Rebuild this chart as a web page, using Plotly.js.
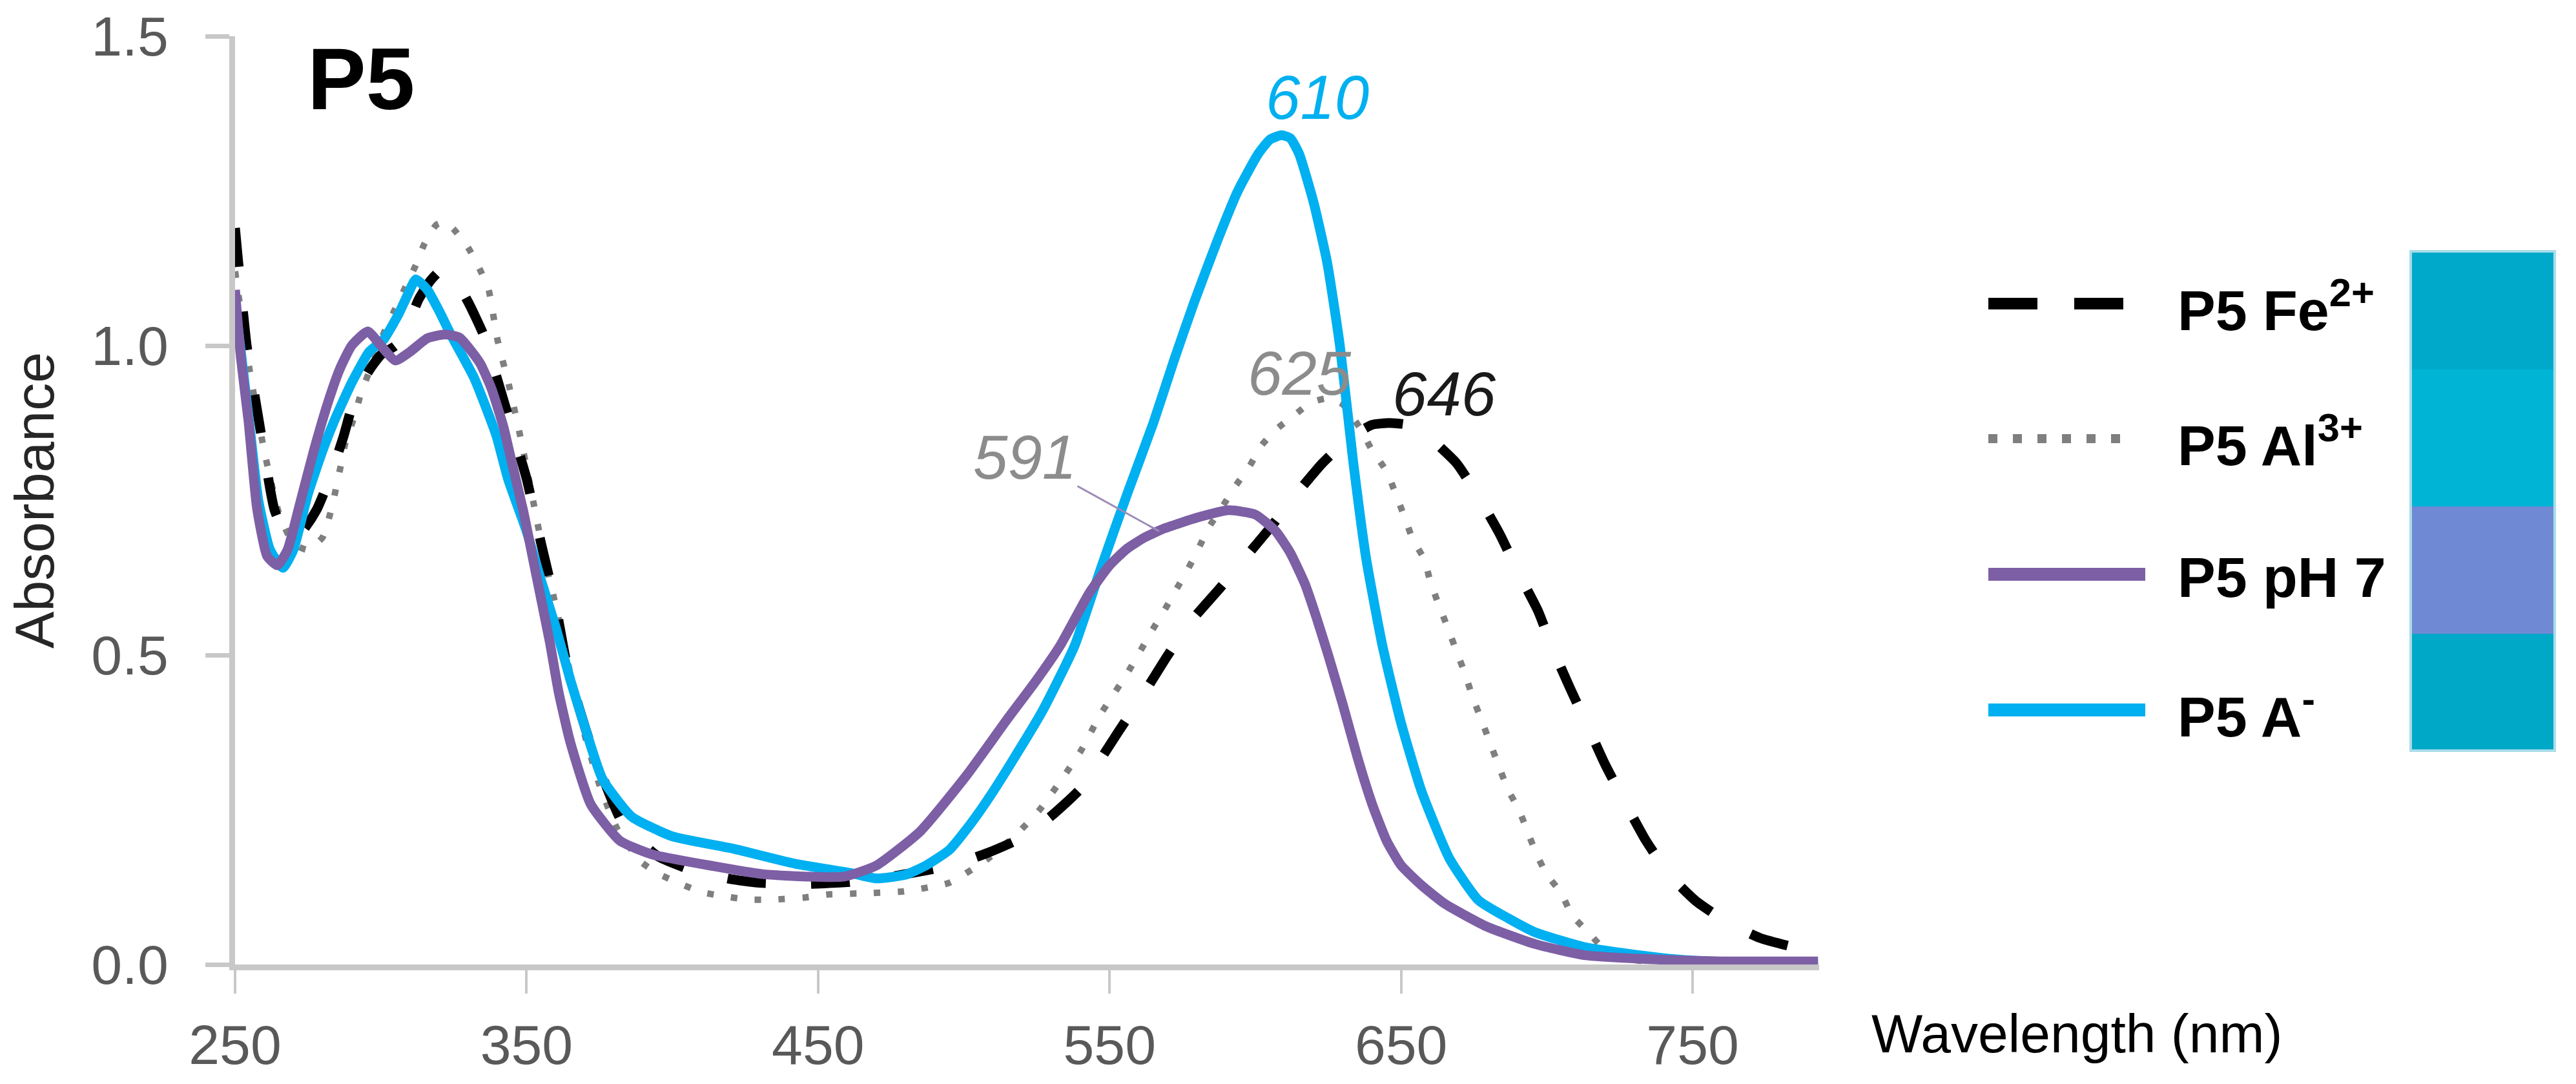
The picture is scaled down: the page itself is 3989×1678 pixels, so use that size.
<!DOCTYPE html>
<html><head><meta charset="utf-8">
<script src="https://cdn.plot.ly/plotly-3.0.1.min.js"></script>
<style>html,body{margin:0;padding:0;background:#fff}#chart{width:3989px;height:1678px}</style>
</head><body><div id="chart"></div><script>
// ---------- data ----------
const seriesNames = ['P5 Fe<sup>2+</sup>', 'P5 Al<sup>3+</sup>', 'P5 pH 7', 'P5 A<sup>-</sup>'];

const wlFe = [250,252,254,258.5,263.5,268,273,278,282,287,291,296,300,305,309,313,317,321,325,330,335,340,345,350,355,360,364,372,383,395,407.5,420,430,445,460,475,495.5,508,520,530,540,553,562,570,578,588,597,606,614,623,632,640,646,652,660,669,676,684,690,697,702,708,714,720,727,734,742,751,762,773,783,793];
const absFe = [1.19,1.09,1.0,0.869,0.735,0.69,0.70,0.735,0.78,0.85,0.915,0.96,0.985,1.0,1.03,1.075,1.105,1.123,1.11,1.07,1.02,0.945,0.865,0.785,0.68,0.58,0.48,0.355,0.228,0.175,0.151,0.138,0.132,0.13,0.133,0.142,0.16,0.18,0.205,0.24,0.284,0.376,0.44,0.5,0.555,0.609,0.66,0.711,0.76,0.81,0.85,0.872,0.875,0.872,0.85,0.81,0.76,0.694,0.635,0.571,0.51,0.446,0.385,0.323,0.26,0.2,0.145,0.103,0.068,0.043,0.03,0.02];

const wlAl = [250,255,260,265,270,275,280,283,286,288,291,293,297,301,305,309,312,315,319,322,325,330,334,337,340,344,348,352,356,360,365,370,375,381,389,395,403,410,418,426,435,445,453,465,479,495,508,518,526,535,540,547,556,565,569,573,577,581,584,589,593,598,602,607,614,619,625,630,636,640,645,648,651,654,658,660,663,666,669,672,674.5,677.5,680.5,683.5,686.5,690.5,693.5,696.5,700,705,708.5,714,719,725,735,750,793];
const absAl = [1.12,0.96,0.83,0.73,0.68,0.67,0.69,0.735,0.8,0.846,0.886,0.92,0.97,1.02,1.06,1.10,1.13,1.165,1.195,1.2,1.188,1.158,1.123,1.09,1.01,0.935,0.85,0.755,0.66,0.58,0.47,0.37,0.29,0.22,0.167,0.147,0.13,0.117,0.11,0.105,0.105,0.108,0.113,0.115,0.118,0.132,0.17,0.21,0.25,0.309,0.344,0.405,0.47,0.543,0.574,0.607,0.64,0.677,0.706,0.742,0.772,0.805,0.838,0.864,0.89,0.908,0.915,0.905,0.866,0.831,0.797,0.762,0.725,0.687,0.654,0.619,0.58,0.544,0.506,0.469,0.432,0.396,0.358,0.321,0.284,0.249,0.213,0.178,0.145,0.115,0.08,0.053,0.028,0.012,0.004,0.001,0];

const wlPH7 = [250,252,254.6,257.5,261,264.5,268,272,277,282,286,290,295.5,300,305,310,316,322,327,334,338,342,345,349,352,355,358,361,365,372,382,393,414,431,446,459,470,485,501,515,525,533,543,550,556,562,569,580,591,600,607,612,617,621,625,630,635,640,645,650,657,665,679,696,713,738,760,793];
const absPH7 = [1.09,0.98,0.878,0.738,0.66,0.645,0.67,0.74,0.83,0.91,0.963,1.0,1.023,1.0,0.976,0.99,1.012,1.018,1.013,0.972,0.93,0.87,0.81,0.73,0.66,0.59,0.52,0.44,0.359,0.259,0.2,0.178,0.159,0.146,0.142,0.142,0.16,0.215,0.306,0.397,0.46,0.515,0.6,0.645,0.672,0.69,0.705,0.722,0.734,0.727,0.70,0.665,0.615,0.56,0.5,0.42,0.335,0.26,0.2,0.16,0.128,0.098,0.062,0.033,0.015,0.008,0.005,0.005];

const wlA = [250,253,255,258,262,266.4,270,275,280,284,290,296,301,306,309,312,316,320,324,332,339.6,343.6,350,355,360,365,369,376,386,400,421,442,462,470,480,487,495,501,508,516,527,538,547,556,565,572,579,587,594,601,605,609,612,615,620,624.6,629,633.5,638,643.6,650,657,666.6,676.5,687,696,713,730,745,760,775,793];
const absA = [1.07,0.95,0.87,0.75,0.67,0.641,0.67,0.76,0.83,0.878,0.94,0.99,1.01,1.05,1.08,1.107,1.09,1.056,1.018,0.948,0.855,0.785,0.70,0.62,0.545,0.46,0.399,0.3,0.239,0.207,0.187,0.163,0.147,0.139,0.145,0.16,0.185,0.219,0.265,0.324,0.41,0.515,0.64,0.76,0.875,0.975,1.07,1.17,1.25,1.31,1.333,1.34,1.335,1.31,1.231,1.135,1.0,0.815,0.656,0.515,0.39,0.28,0.171,0.104,0.074,0.052,0.028,0.016,0.008,0.004,0.002,0.001];

const xTicks = [250,350,450,550,650,750];
const yTicks = [0,0.5,1.0,1.5];
const peakLabels = ['610','625','646','591'];
const swatchColors = ['#00A9CA','#00B4D6','#7089D4','#00A8C8'];

// ---------- styling / layout ----------
const W=3989, H=1678, L=364, R=2817, T=56, B=1493;
const px = x => (x-L)/(R-L);
const py = y => (B-y)/(B-T);
const FONT = '"Liberation Sans", Arial, sans-serif';
const cFe='#000000', cAl='#7F7F7F', cPH='#7D5FA5', cA='#00B0F0';

const traces = [
  {x: wlAl, y: absAl, name: seriesNames[1], mode:'lines', line:{color:cAl, width:10, dash:'10px,27px', shape:'spline', smoothing:0.5}},
  {x: wlFe, y: absFe, name: seriesNames[0], mode:'lines', line:{color:cFe, width:15, dash:'60px,70px', shape:'spline', smoothing:0.5}},
  {x: wlA, y: absA, name: seriesNames[3], mode:'lines', line:{color:cA, width:15, shape:'spline', smoothing:0.5}},
  {x: wlPH7, y: absPH7, name: seriesNames[2], mode:'lines', line:{color:cPH, width:15, shape:'spline', smoothing:0.5}}
].map(t => Object.assign(t, {showlegend:false, hoverinfo:'skip'}));

const legY = [470, 679, 889, 1099];
const legX0 = 3079;
const shapes = [
  {type:'line', xref:'paper', yref:'paper', x0:px(legX0), x1:px(3288), y0:py(legY[0]), y1:py(legY[0]), line:{color:cFe, width:18, dash:'76px,57px'}},
  {type:'line', xref:'paper', yref:'paper', x0:px(legX0), x1:px(3288), y0:py(legY[1]), y1:py(legY[1]), line:{color:cAl, width:14, dash:'14px,24px'}},
  {type:'line', xref:'paper', yref:'paper', x0:px(legX0), x1:px(3322), y0:py(legY[2]), y1:py(legY[2]), line:{color:cPH, width:20}},
  {type:'line', xref:'paper', yref:'paper', x0:px(legX0), x1:px(3322), y0:py(legY[3]), y1:py(legY[3]), line:{color:cA, width:20}}
];
const swY = [391, 572, 784, 981, 1160];
swatchColors.forEach((c,i) => shapes.push({type:'rect', xref:'paper', yref:'paper', x0:px(3735), x1:px(3954), y0:py(swY[i+1]), y1:py(swY[i]), fillcolor:c, line:{width:0}, layer:'below'}));
shapes.push({type:'rect', xref:'paper', yref:'paper', x0:px(3733), x1:px(3956), y0:py(1162), y1:py(389), fillcolor:'rgba(0,0,0,0)', line:{color:'#A8DDE9', width:4}});

const annotations = [];
const legOrder = [0,1,2,3];
legOrder.forEach((k,i) => annotations.push({xref:'paper', yref:'paper', x:px(3370), y:py(legY[i]+4), xanchor:'left', yanchor:'middle', showarrow:false, text:seriesNames[k], font:{family:FONT, size:88, weight:'bold', color:'#000'}}));
annotations.push({xref:'paper', yref:'paper', x:px(559), y:py(122), xanchor:'center', yanchor:'middle', showarrow:false, text:'P5', font:{family:FONT, size:136, weight:'bold', color:'#000'}});
annotations.push({xref:'paper', yref:'paper', x:px(2040), y:py(150), xanchor:'center', yanchor:'middle', showarrow:false, text:peakLabels[0], font:{family:FONT, size:96, style:'italic', color:cA}});
annotations.push({xref:'paper', yref:'paper', x:px(2012), y:py(577), xanchor:'center', yanchor:'middle', showarrow:false, text:peakLabels[1], font:{family:FONT, size:96, style:'italic', color:'#8C8C8C'}});
annotations.push({xref:'paper', yref:'paper', x:px(2236), y:py(609), xanchor:'center', yanchor:'middle', showarrow:false, text:peakLabels[2], font:{family:FONT, size:96, style:'italic', color:'#1A1A1A'}});
annotations.push({xref:'x', yref:'y', x:567, y:0.70, ax:-208, ay:-115, axref:'pixel', ayref:'pixel', showarrow:true, arrowhead:0, arrowwidth:3, arrowcolor:'#9D8BB8', text:peakLabels[3], font:{family:FONT, size:96, style:'italic', color:'#8C8C8C'}});
annotations.push({xref:'paper', yref:'paper', x:px(3216), y:py(1600), xanchor:'center', yanchor:'middle', showarrow:false, text:'Wavelength (nm)', font:{family:FONT, size:84, color:'#000'}});

const layout = {
  width:W, height:H,
  margin:{l:L, r:W-R, t:T, b:H-B, pad:0},
  paper_bgcolor:'#fff', plot_bgcolor:'#fff',
  font:{family:FONT, color:'#595959'},
  showlegend:false,
  xaxis:{range:[250,793.4], tickvals:xTicks, ticktext:xTicks.map(String), showgrid:false, zeroline:false,
         showline:true, linecolor:'#C8C8C8', linewidth:9, ticks:'outside', ticklen:36, tickwidth:4, tickcolor:'#C8C8C8',
         tickfont:{family:FONT, size:86, color:'#595959'}, ticklabelstandoff:6, layer:'below traces', automargin:false},
  yaxis:{range:[0,1.5], tickvals:yTicks, ticktext:yTicks.map(v=>v.toFixed(1)), showgrid:false, zeroline:false,
         showline:true, linecolor:'#C8C8C8', linewidth:9, ticks:'outside', ticklen:37, tickwidth:7, tickcolor:'#C8C8C8',
         tickfont:{family:FONT, size:86, color:'#595959'}, ticklabelstandoff:40, layer:'below traces', automargin:false,
         title:{text:'Absorbance', font:{family:FONT, size:86, color:'#262626'}, standoff:33}},
  shapes:shapes, annotations:annotations
};
Plotly.newPlot('chart', traces, layout, {staticPlot:true});
</script></body></html>
